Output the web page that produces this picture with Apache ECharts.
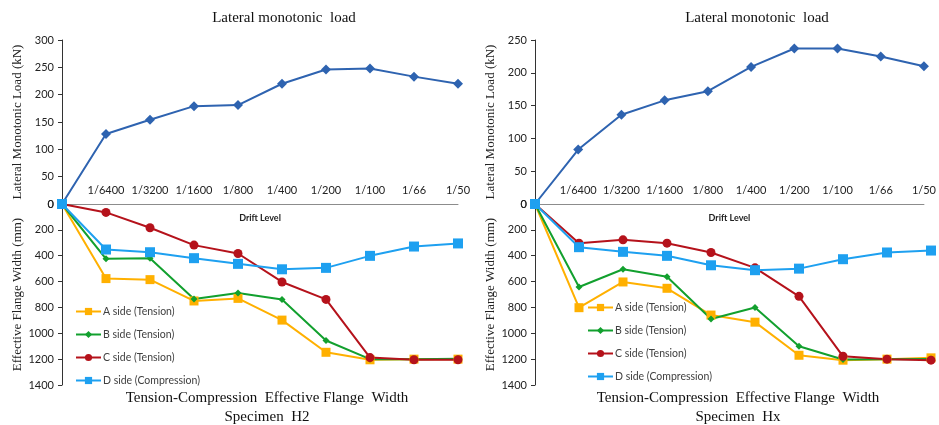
<!DOCTYPE html>
<html>
<head>
<meta charset="utf-8">
<script src="https://cdn.jsdelivr.net/npm/echarts@6/dist/echarts.min.js"></script>
<style>
  html, body { margin: 0; padding: 0; background: #fff; }
  #chart { width: 939px; height: 425px; }
</style>
</head>
<body>
<div id="chart"></div>
<script>
// drift levels (first point is the origin)
var drift = ['0', '1/6400', '1/3200', '1/1600', '1/800', '1/400', '1/200', '1/100', '1/66', '1/50'];
var sideNames = ['A side (Tension)', 'B side (Tension)', 'C side (Tension)', 'D side (Compression)'];

// specimen H2
var loadH2 = [0, 128, 154, 179, 181, 220, 246, 248, 233, 220];
var aH2 = [0, 577, 585, 750, 730, 898, 1147, 1205, 1200, 1200];
var bH2 = [0, 424, 419, 735, 688, 738, 1056, 1200, 1200, 1196];
var cH2 = [0, 65, 184, 318, 383, 603, 738, 1188, 1205, 1205];
var dH2 = [0, 352, 373, 419, 463, 505, 494, 401, 329, 305];

// specimen Hx
var loadHx = [0, 83, 136, 158, 172, 209, 237, 237, 225, 210];
var aHx = [0, 802, 603, 652, 859, 914, 1170, 1208, 1200, 1190];
var bHx = [0, 642, 505, 562, 890, 800, 1100, 1203, 1200, 1198];
var cHx = [0, 303, 277, 303, 375, 494, 714, 1178, 1200, 1208];
var dHx = [0, 334, 370, 401, 474, 512, 500, 427, 375, 360];

var colors = ['#FFB000', '#12A02E', '#B5121B', '#1EA0F0'];
var symbols = ['rect', 'diamond', 'circle', 'rect'];
var symbolSizes = [9, 7, 9, 10];

var serif = '"Liberation Serif", "DejaVu Serif", serif';
var sans = 'Lato, "Liberation Sans", sans-serif';

var chartDom = document.getElementById('chart');
var myChart = echarts.init(chartDom);

function panelGrids(left) {
  return [
    { left: left, top: 40, width: 396, height: 164 },
    { left: left, top: 204, width: 396, height: 181 }
  ];
}

function topX(gi) {
  return {
    type: 'category', gridIndex: gi, data: drift, boundaryGap: false,
    axisLine: { lineStyle: { color: '#8c8c8c', width: 1 } },
    axisTick: { show: false },
    axisLabel: {
      inside: true, margin: 8, color: '#222', fontFamily: sans, fontSize: 11,
      interval: 0,
      formatter: function (v, i) { return i === 0 ? '' : v; }
    },
    name: 'Drift Level', nameLocation: 'middle', nameGap: 10,
    nameTextStyle: { fontFamily: sans, fontSize: 9, fontWeight: 'bold', color: '#222' }
  };
}

function bottomX(gi) {
  return { type: 'category', gridIndex: gi, data: drift, boundaryGap: false, show: false };
}

function plain(v) { return String(v); }

function topY(gi, max) {
  return {
    type: 'value', gridIndex: gi, min: 0, max: max, interval: 50,
    splitLine: { show: false },
    axisLine: { show: true, lineStyle: { color: '#333' } },
    axisTick: { show: true, length: 4, lineStyle: { color: '#333' } },
    axisLabel: { color: '#222', fontFamily: sans, fontSize: 11, margin: 8, formatter: plain },
    name: 'Lateral Monotonic Load (kN)', nameLocation: 'middle', nameGap: 38,
    nameTextStyle: { fontFamily: serif, fontSize: 13, color: '#222' }
  };
}

function bottomY(gi) {
  return {
    type: 'value', gridIndex: gi, min: 0, max: 1400, interval: 200, inverse: true,
    splitLine: { show: false },
    axisLine: { show: true, lineStyle: { color: '#333' } },
    axisTick: { show: true, length: 4, lineStyle: { color: '#333' } },
    axisLabel: { color: '#222', fontFamily: sans, fontSize: 11, margin: 8, formatter: plain },
    name: 'Effective Flange Width (mm)', nameLocation: 'middle', nameGap: 38,
    nameTextStyle: { fontFamily: serif, fontSize: 13, color: '#222' }
  };
}

function loadSeries(gi, data) {
  return {
    type: 'line', xAxisIndex: gi, yAxisIndex: gi, data: data,
    symbol: 'diamond', symbolSize: 10,
    lineStyle: { color: '#2E63B0', width: 2 },
    itemStyle: { color: '#2E63B0' }
  };
}

function sideSeries(gi, list) {
  return list.map(function (d, k) {
    return {
      name: sideNames[k], type: 'line', xAxisIndex: gi, yAxisIndex: gi, data: d,
      symbol: symbols[k], symbolSize: symbolSizes[k],
      lineStyle: { color: colors[k], width: 2 },
      itemStyle: { color: colors[k] }
    };
  });
}

function legendAt(left, top) {
  return {
    data: sideNames, orient: 'vertical', left: left, top: top, padding: 0,
    itemWidth: 25, itemHeight: 9, itemGap: 12,
    textStyle: { fontFamily: sans, fontSize: 10.5, color: '#404040', padding: [0, 0, 0, -3] }
  };
}

var titleStyle = { fontFamily: serif, fontSize: 15, fontWeight: 'normal', color: '#111' };

var option = {
  animation: false,
  title: [
    { text: 'Lateral monotonic  load', left: 279, top: 6, textAlign: 'center', textStyle: titleStyle },
    { text: 'Lateral monotonic  load', left: 752, top: 6, textAlign: 'center', textStyle: titleStyle },
    { text: 'Tension-Compression  Effective Flange  Width', left: 262, top: 386, textAlign: 'center', textStyle: titleStyle },
    { text: 'Specimen  H2', left: 262, top: 405, textAlign: 'center', textStyle: titleStyle },
    { text: 'Tension-Compression  Effective Flange  Width', left: 733, top: 386, textAlign: 'center', textStyle: titleStyle },
    { text: 'Specimen  Hx', left: 733, top: 405, textAlign: 'center', textStyle: titleStyle }
  ],
  legend: [legendAt(75, 306), legendAt(587, 302)],
  grid: panelGrids(62).concat(panelGrids(535)),
  xAxis: [topX(0), bottomX(1), topX(2), bottomX(3)],
  yAxis: [topY(0, 300), bottomY(1), topY(2, 250), bottomY(3)],
  series: [loadSeries(0, loadH2)]
    .concat(sideSeries(1, [aH2, bH2, cH2, dH2]))
    .concat([loadSeries(2, loadHx)])
    .concat(sideSeries(3, [aHx, bHx, cHx, dHx]))
};

myChart.setOption(option);
</script>
</body>
</html>
